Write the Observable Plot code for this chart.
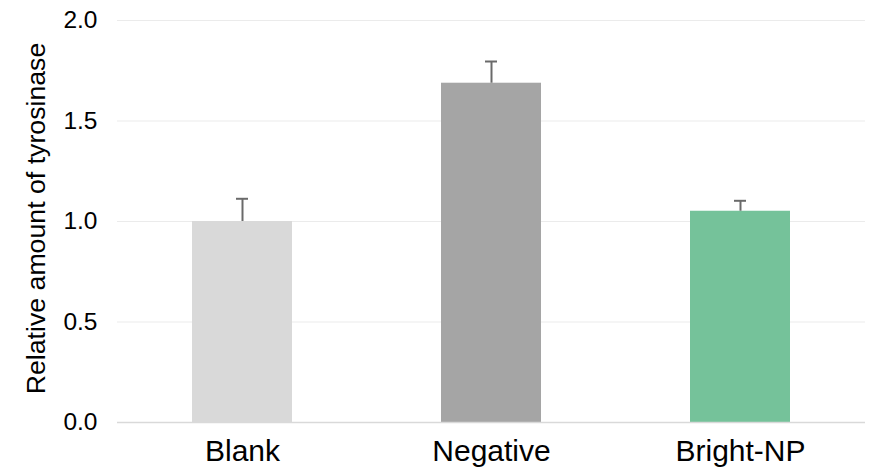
<!DOCTYPE html>
<html>
<head>
<meta charset="utf-8">
<script src="https://cdn.jsdelivr.net/npm/d3@7"></script>
<script src="https://cdn.jsdelivr.net/npm/@observablehq/plot@0.6"></script>
<style>
  html, body { margin: 0; padding: 0; background: #fff; }
  #chart { width: 871px; height: 476px; }
</style>
</head>
<body>
<div id="chart"></div>
<script>
const categories = ["Blank", "Negative", "Bright-NP"];
const values = [1.0, 1.688, 1.051];
const errors = [0.113, 0.108, 0.052];
const colors = ["#d9d9d9", "#a5a5a5", "#75c29a"];
const yTicks = [0, 0.5, 1.0, 1.5, 2.0];
const yLabel = "Relative amount of tyrosinase";

const data = categories.map((c, i) => ({cat: c, value: values[i], err: errors[i], color: colors[i]}));

const chart = Plot.plot({
  width: 871,
  height: 476,
  marginLeft: 117,
  marginRight: 6,
  marginTop: 20,
  marginBottom: 54,
  style: {fontFamily: "'Liberation Sans', Arial, sans-serif", color: "#000", background: "#fff"},
  x: {domain: categories, paddingInner: 0.6, paddingOuter: 0.3},
  y: {domain: [0, 2]},
  marks: [
    Plot.gridY(yTicks, {stroke: "#ebebeb", strokeOpacity: 1, strokeWidth: 1.2}),
    Plot.barY(data, {x: "cat", y: "value", fill: "color"}),
    Plot.ruleX(data, {x: "cat", y1: "value", y2: d => d.value + d.err, stroke: "#6a6a6a", strokeWidth: 2}),
    Plot.tickY(data, {x: "cat", y: d => d.value + d.err, stroke: "#6a6a6a", strokeWidth: 2, insetLeft: 44, insetRight: 44}),
    Plot.ruleY([0], {stroke: "#d9d9d9", strokeWidth: 1.5}),
    Plot.axisY(yTicks, {tickSize: 0, tickPadding: 20, fontSize: 24.5, tickFormat: d3.format(".1f"), label: null}),
    Plot.axisX({tickSize: 0, tickPadding: 17, fontSize: 30, label: null}),
    Plot.text([yLabel], {frameAnchor: "left", textAnchor: "middle", rotate: -90, dx: -81, dy: -3, fontSize: 26.7, fill: "#000"})
  ]
});
document.getElementById("chart").appendChild(chart);
</script>
</body>
</html>
